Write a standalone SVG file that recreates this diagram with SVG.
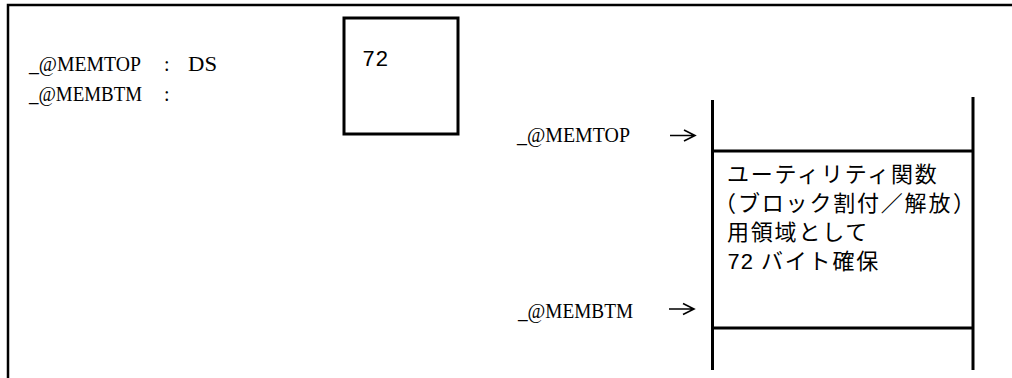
<svg xmlns="http://www.w3.org/2000/svg" width="1012" height="378" viewBox="0 0 1012 378">
  <style>
    .frame { fill: none; stroke: #000; stroke-width: 2.5; }
    .line { fill: none; stroke: #000; stroke-width: 3; }
    .lbl { font-family: "Liberation Serif", "DejaVu Serif", serif; font-size: 20px; fill: #000; }
    .num { font-family: "Liberation Mono", "DejaVu Sans Mono", monospace; font-size: 22px; fill: #000; }
    .jp { font-family: "Noto Sans CJK JP", "Noto Sans", sans-serif; font-size: 22px; letter-spacing: 1.8px; fill: #000; }
    .arrow { fill: none; stroke: #000; stroke-width: 1.6; }
  </style>
  <rect width="1012" height="378" fill="#fff"/>
  <path class="frame" d="M8,380 V5 H1014"/>

  <g id="register-labels">
    <text class="lbl" x="29" y="71" textLength="112" lengthAdjust="spacingAndGlyphs">_@MEMTOP</text>
    <text class="lbl" x="164" y="71">:</text>
    <text class="lbl" x="188" y="71" textLength="29" lengthAdjust="spacingAndGlyphs">DS</text>
    <text class="lbl" x="29" y="101" textLength="113" lengthAdjust="spacingAndGlyphs">_@MEMBTM</text>
    <text class="lbl" x="164" y="101">:</text>
  </g>

  <g id="value-box">
    <rect class="line" x="344" y="18" width="114" height="116"/>
    <text class="num" x="362" y="66">72</text>
  </g>

  <g id="memtop-label">
    <text class="lbl" x="517" y="142" textLength="113" lengthAdjust="spacingAndGlyphs">_@MEMTOP</text>
  </g>
  <g id="membtm-label">
    <text class="lbl" x="518" y="318" textLength="115" lengthAdjust="spacingAndGlyphs">_@MEMBTM</text>
  </g>

  <g id="memory-column">
    <line class="line" x1="712.5" y1="100" x2="712.5" y2="370"/>
    <line class="line" x1="973" y1="97" x2="973" y2="370"/>
    <line class="line" x1="712" y1="151" x2="973" y2="151"/>
    <line class="line" x1="712" y1="328" x2="973" y2="328"/>
  </g>

  <g id="utility-area">
    <text class="jp" x="727" y="182">ユーティリティ関数</text>
    <text class="jp" x="714" y="211">（<tspan x="738">ブロック割付／解放</tspan><tspan x="953">）</tspan></text>
    <text class="jp" x="727" y="240">用領域として</text>
    <text x="727" y="269"><tspan class="num">72</tspan><tspan class="jp" x="761">バイト確保</tspan></text>
  </g>

  <g id="connectors">
    <path class="arrow" d="M670,135.5 H694 M684,130 L695,135.5 L684,141"/>
    <path class="arrow" d="M669,309 H693 M683,303.5 L694,309 L683,314.5"/>
  </g>
</svg>
